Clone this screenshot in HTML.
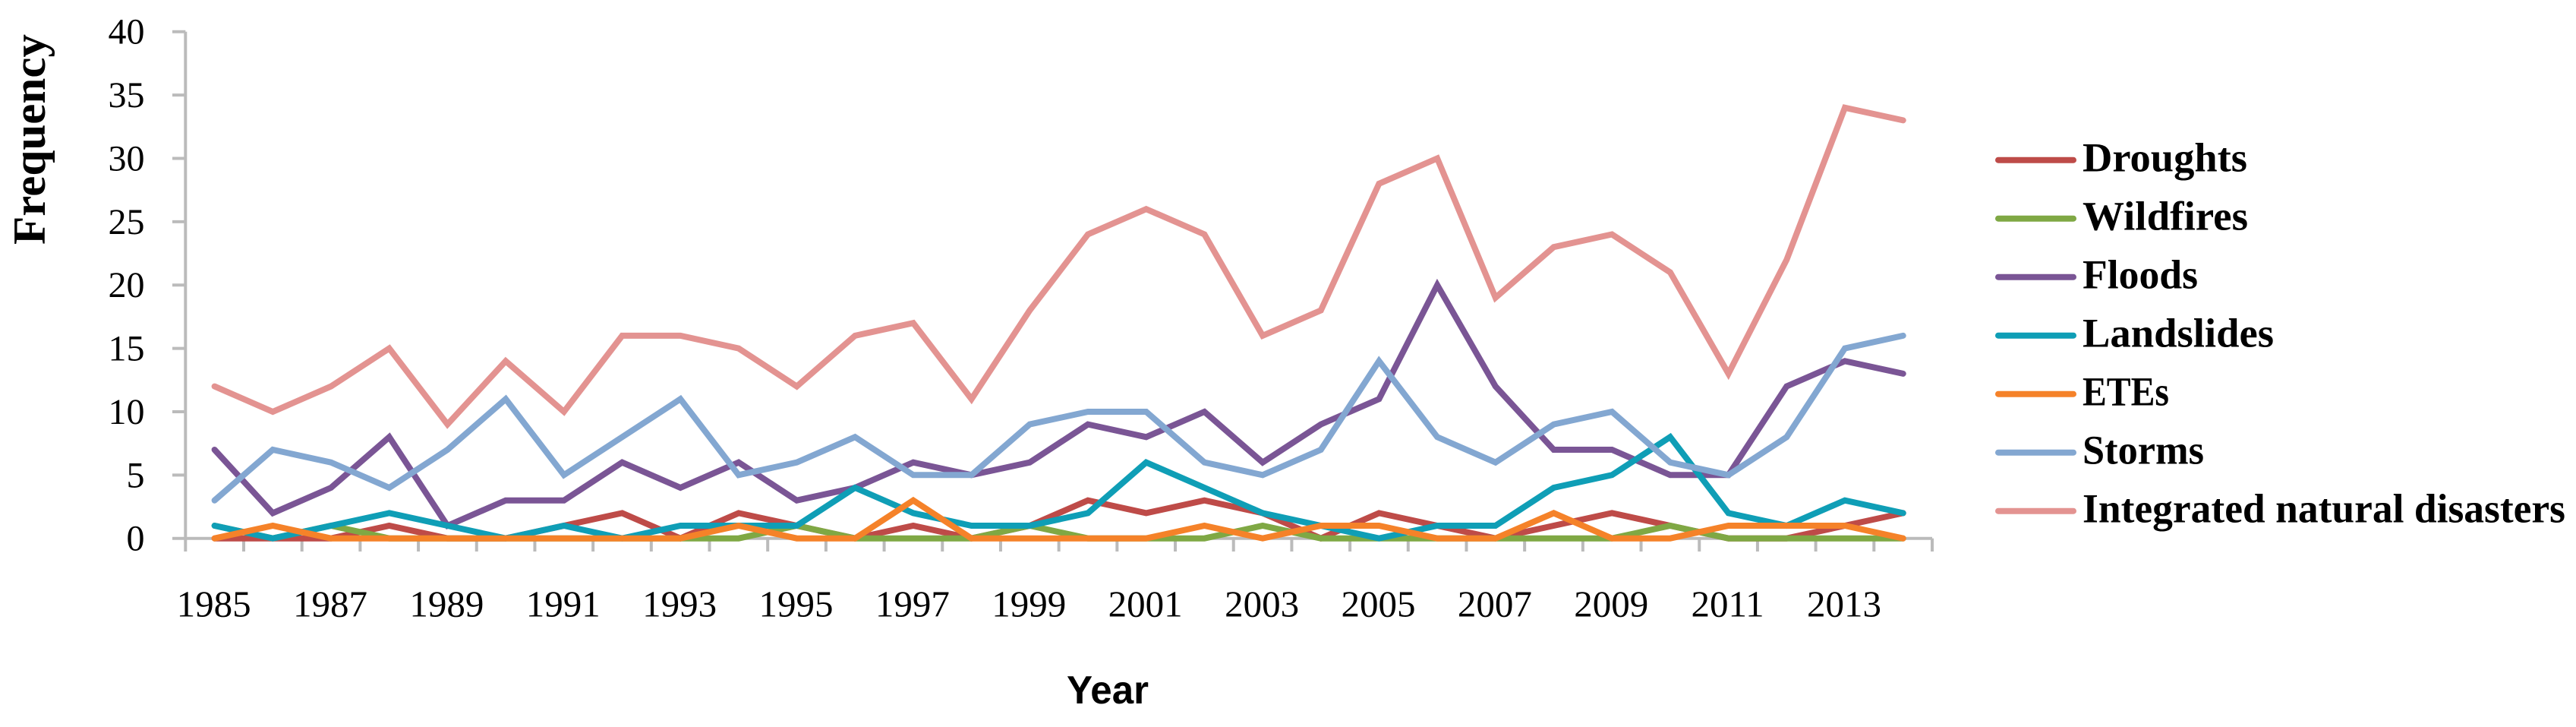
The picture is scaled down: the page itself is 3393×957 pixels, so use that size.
<!DOCTYPE html>
<html lang="en">
<head>
<meta charset="utf-8">
<title>Frequency of natural disasters, 1985-2014</title>
<style>
html,body{margin:0;padding:0;background:#fff;}
body{width:3393px;height:957px;overflow:hidden;}
svg{display:block;}
text{fill:#000;}
.serif{font-family:"Liberation Serif",serif;}
.sans{font-family:"Liberation Sans",sans-serif;}
</style>
</head>
<body>
<svg id="chart" xmlns="http://www.w3.org/2000/svg" width="3393" height="957" viewBox="0 0 3393 957"></svg>
<script>
const years = [1985,1986,1987,1988,1989,1990,1991,1992,1993,1994,1995,1996,1997,1998,1999,2000,2001,2002,2003,2004,2005,2006,2007,2008,2009,2010,2011,2012,2013,2014];
const yTicks = [0,5,10,15,20,25,30,35,40];
const droughts = [0,0,0,1,0,0,1,2,0,2,1,0,1,0,1,3,2,3,2,0,2,1,0,1,2,1,0,0,1,2];
const wildfires = [1,0,1,0,0,0,0,0,0,0,1,0,0,0,1,0,0,0,1,0,0,0,0,0,0,1,0,0,0,0];
const floods = [7,2,4,8,1,3,3,6,4,6,3,4,6,5,6,9,8,10,6,9,11,20,12,7,7,5,5,12,14,13];
const landslides = [1,0,1,2,1,0,1,0,1,1,1,4,2,1,1,2,6,4,2,1,0,1,1,4,5,8,2,1,3,2];
const etes = [0,1,0,0,0,0,0,0,0,1,0,0,3,0,0,0,0,1,0,1,1,0,0,2,0,0,1,1,1,0];
const storms = [3,7,6,4,7,11,5,8,11,5,6,8,5,5,9,10,10,6,5,7,14,8,6,9,10,6,5,8,15,16];
const integrated = [12,10,12,15,9,14,10,16,16,15,12,16,17,11,18,24,26,24,16,18,28,30,19,23,24,21,13,22,34,33];
const seriesNames = ["Droughts","Wildfires","Floods","Landslides","ETEs","Storms","Integrated natural disasters"];
const seriesValues = [droughts,wildfires,floods,landslides,etes,storms,integrated];
const seriesColors = ["#BE4B48","#7FA844","#7A5595","#0F9EB6","#F58229","#83A7D1","#E39391"];
const legendWidths = [217,218,152,252,114,160,636];

const NS = "http://www.w3.org/2000/svg";
const svg = document.getElementById("chart");
const plot = {left:244.3, right:2545, top:41.7, bottom:708.7};
const yMax = 40;
const step = (plot.right - plot.left) / years.length;
function xScale(i){ return plot.left + step * (i + 0.5); }
function yScale(v){ return plot.bottom - (v / yMax) * (plot.bottom - plot.top); }

function make(tag, attrs, parent){
  const el = document.createElementNS(NS, tag);
  for (const k in attrs) el.setAttribute(k, attrs[k]);
  (parent || svg).appendChild(el);
  return el;
}

const axisColor = "#BBBBBB";
const axisWidth = 4;

const yAxis = make("line", {x1:plot.left, x2:plot.left, y1:plot.top, y2:plot.bottom, stroke:axisColor, "stroke-width":axisWidth});


const xAxis = make("line", {x1:plot.left, x2:plot.right, y1:plot.bottom, y2:plot.bottom, stroke:axisColor, "stroke-width":axisWidth});



yTicks.forEach(function(t){
  const tick = make("line", {x1:227, x2:plot.left, y1:yScale(t), y2:yScale(t), stroke:axisColor, "stroke-width":axisWidth});
  
  
  const label = make("text", {x:190.5, y:yScale(t) + 16, "text-anchor":"end", "font-size":48, class:"serif"});
  
  
  label.textContent = t;
});

for (let i = 0; i <= years.length; i++){
  const tx = plot.left + step * i;
  const tick = make("line", {x1:tx, x2:tx, y1:plot.bottom, y2:726, stroke:axisColor, "stroke-width":axisWidth});
  
  
}

years.forEach(function(yr, i){
  if (i % 2 !== 0) return;
  const label = make("text", {x:xScale(i) - 1, y:811.5, "text-anchor":"middle", "font-size":49, class:"serif"});
  
  
  label.textContent = yr;
});

seriesValues.forEach(function(values, s){
  const pts = values.map(function(v, i){ return xScale(i).toFixed(1) + "," + yScale(v).toFixed(1); }).join(" ");
  const line = make("polyline", {points:pts, fill:"none", stroke:seriesColors[s], "stroke-width":8, "stroke-linejoin":"miter", "stroke-linecap":"round"});
  
  
});

seriesNames.forEach(function(name, s){
  const ly = 210.7 + 77 * s;
  const swatch = make("line", {x1:2632, x2:2731, y1:ly, y2:ly, stroke:seriesColors[s], "stroke-width":8, "stroke-linecap":"round"});
  
  
  const label = make("text", {x:2743, y:ly + 15, "font-size":54, "font-weight":"bold", class:"serif", textLength:legendWidths[s], lengthAdjust:"spacingAndGlyphs"});
  
  
  label.textContent = name;
});

const yTitle = make("text", {transform:"translate(59 322) rotate(-90)", "font-size":60, "font-weight":"bold", class:"serif", textLength:277, lengthAdjust:"spacingAndGlyphs"});


yTitle.textContent = "Frequency";

const xTitle = make("text", {x:1405, y:926, "font-size":52, "font-weight":"bold", class:"sans", textLength:108, lengthAdjust:"spacingAndGlyphs"});


xTitle.textContent = "Year";
</script>
</body>
</html>
